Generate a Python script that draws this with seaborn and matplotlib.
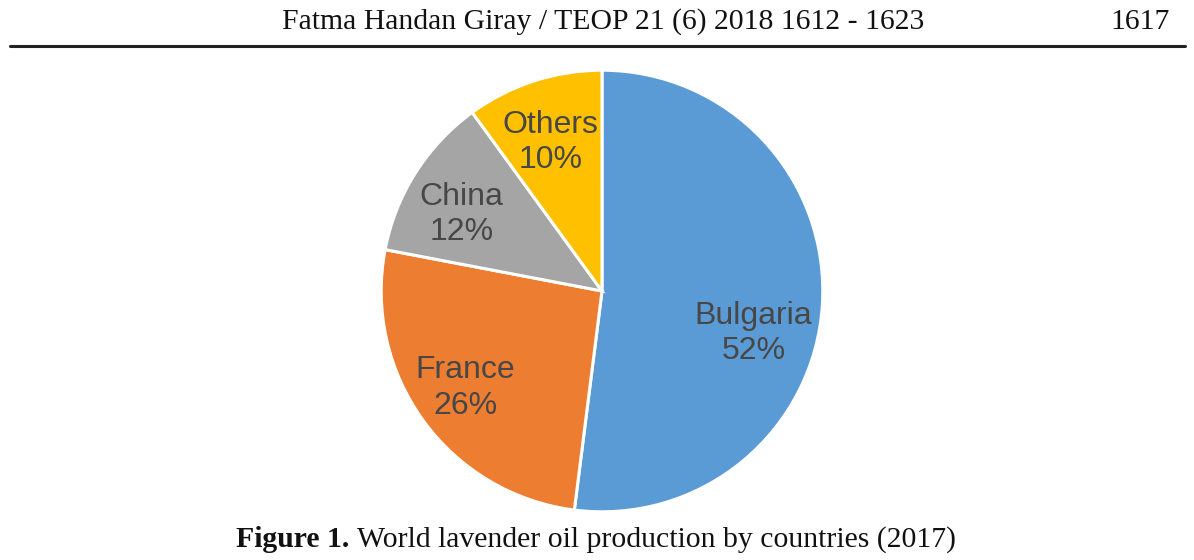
import matplotlib
matplotlib.use("Agg")
import matplotlib.pyplot as plt
import seaborn as sns
from matplotlib.lines import Line2D

countries = ["Bulgaria", "France", "China", "Others"]
shares = [52, 26, 12, 10]
colors = ["#5B9BD5", "#ED7D31", "#A5A5A5", "#FFC000"]
header_text = "Fatma Handan Giray / TEOP 21 (6) 2018 1612 - 1623"
page_number = "1617"
caption_bold = "Figure 1."
caption_rest = " World lavender oil production by countries (2017)"

sns.set_theme(style="white")
plt.rcParams["font.family"] = ["Liberation Serif", "DejaVu Serif"]

W, H = 1194, 560
fig = plt.figure(figsize=(W / 100, H / 100), dpi=100)
fig.patch.set_facecolor("white")

cx, cy, r = 602, 291, 223
ax = fig.add_axes([(cx - r) / W, (H - cy - r) / H, 2 * r / W, 2 * r / H])
wedges, _ = ax.pie(shares, colors=colors, startangle=90, counterclock=False,
                   radius=1, wedgeprops=dict(edgecolor="white", linewidth=2.2))
ax.set_xlim(-1.01, 1.01)
ax.set_ylim(-1.01, 1.01)
ax.set_aspect("equal")
ax.axis("off")

label_pos = {"Bulgaria": (755, 334), "France": (464, 389), "China": (460, 214), "Others": (550, 141)}
for name, val in zip(countries, shares):
    px, py = label_pos[name]
    ax.text((px - cx) / r, (cy - py) / r, f"{name}\n{val}%", ha="center", va="center",
            fontsize=23, color="#474747", family=["Liberation Sans", "DejaVu Sans"],
            linespacing=1.22)

# header
fig.text(603 / W, 1 - 29 / H, header_text, ha="center", va="baseline", fontsize=21.4, color="#111111")
fig.text(1170 / W, 1 - 29 / H, page_number, ha="right", va="baseline", fontsize=21.4, color="#111111")
fig.add_artist(Line2D([10 / W, 1185 / W], [1 - 46 / H, 1 - 46 / H], transform=fig.transFigure,
                      color="#222222", linewidth=2.2))

# caption
fig.canvas.draw()
renderer = fig.canvas.get_renderer()
tb = fig.text(0, 1 - 547 / H, caption_bold, ha="left", va="baseline", fontsize=21.4,
              fontweight="bold", color="#111111")
tr = fig.text(0, 1 - 547 / H, caption_rest, ha="left", va="baseline", fontsize=21.4, color="#111111")
wb = tb.get_window_extent(renderer).width
wr = tr.get_window_extent(renderer).width
total = wb + wr
x0 = 596 - total / 2
tb.set_x(x0 / W)
tr.set_x((x0 + wb) / W)

fig.savefig("out.png", dpi=100, facecolor="white")
